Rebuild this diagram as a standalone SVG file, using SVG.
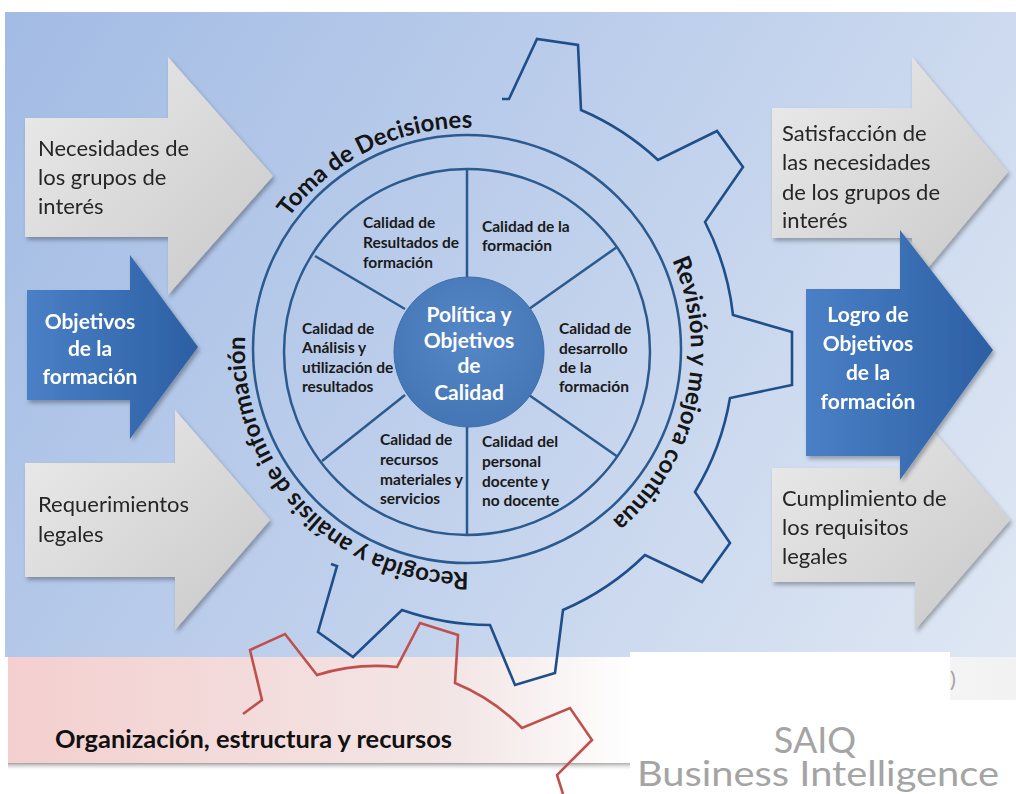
<svg xmlns="http://www.w3.org/2000/svg" width="1016" height="794" viewBox="0 0 1016 794">
<defs>
<linearGradient id="bg" gradientUnits="userSpaceOnUse" x1="0" y1="0" x2="1016" y2="650">
<stop offset="0" stop-color="#a2bbe4"/><stop offset="0.5" stop-color="#bfd0ec"/><stop offset="1" stop-color="#dfe7f3"/>
</linearGradient>
<linearGradient id="band" x1="0" y1="0" x2="1" y2="0">
<stop offset="0" stop-color="#f4cfcf"/><stop offset="0.45" stop-color="#f3e6e6"/><stop offset="0.62" stop-color="#ffffff"/><stop offset="1" stop-color="#f2f2f2"/>
</linearGradient>
<linearGradient id="shadow" x1="0" y1="0" x2="0" y2="1">
<stop offset="0" stop-color="#a0a0a0"/><stop offset="1" stop-color="#ffffff" stop-opacity="0"/>
</linearGradient>
<linearGradient id="shadowFade" x1="0" y1="0" x2="1" y2="0">
<stop offset="0" stop-color="#fff" stop-opacity="0"/><stop offset="0.55" stop-color="#fff" stop-opacity="0"/><stop offset="1" stop-color="#fff" stop-opacity="1"/>
</linearGradient>
<linearGradient id="gray" x1="0" y1="0" x2="1" y2="1">
<stop offset="0" stop-color="#ececec"/><stop offset="1" stop-color="#c8c8c8"/>
</linearGradient>
<linearGradient id="blue" x1="0" y1="0" x2="1" y2="0">
<stop offset="0" stop-color="#4a80c6"/><stop offset="1" stop-color="#2c5fa3"/>
</linearGradient>
<radialGradient id="hub" cx="0.5" cy="0.4" r="0.6">
<stop offset="0" stop-color="#5687c6"/><stop offset="1" stop-color="#4475b5"/>
</radialGradient>
<filter id="ds" x="-10%" y="-10%" width="130%" height="130%">
<feDropShadow dx="2" dy="3" stdDeviation="2" flood-color="#000" flood-opacity="0.3"/>
</filter>
<path id="pToma" d="M 247.7,315.3 A 222 222 0 0 1 574.6,155.8"/>
<path id="pRev" d="M 619.8,186.2 A 224 224 0 0 1 532.5,564.2"/>
<path id="pRec" d="M 518.8,565.9 A 222 222 0 0 1 254.1,287"/>
<style>
.side{font-family:Lato,"Liberation Sans",sans-serif;font-size:22px;fill:#262626}
.wb{font-family:Lato,"Liberation Sans",sans-serif;font-size:21px;font-weight:bold;fill:#ffffff}
.sec{font-family:Lato,"Liberation Sans",sans-serif;font-size:15.5px;font-weight:bold;fill:#1a1a1a}
.arc{font-family:Lato,"Liberation Sans",sans-serif;font-size:24px;font-weight:bold;fill:#151515}
.ring{fill:none;stroke:#2b5a8e;stroke-width:2.5}
.gear{fill:none;stroke:#1f4f8a;stroke-width:2.6;stroke-linejoin:miter}
.red{fill:none;stroke:#c0504d;stroke-width:2.6}
.logo{font-family:Lato,"Liberation Sans",sans-serif;fill:#a4a4a4}
</style>
</defs>
<rect x="0" y="0" width="1016" height="794" fill="#ffffff"/>
<rect x="5" y="12" width="1011" height="645" fill="url(#bg)"/>
<rect x="8" y="657" width="1008" height="107" fill="url(#band)"/>
<rect x="8" y="763" width="1008" height="8" fill="url(#shadow)"/>
<rect x="8" y="757" width="1008" height="16" fill="url(#shadowFade)"/>
<rect x="630" y="652" width="320" height="48" fill="#ffffff"/>
<rect x="630" y="700" width="386" height="94" fill="#ffffff"/>

<g id="connectors">
<path id="blue-gear" class="gear" d="M 502,99 L 509,99 L 537,39 L 578,45 L 581,110 A 268 268 0 0 1 658,160 L 717,131 L 743,167 L 705,222 A 268 268 0 0 1 733,315 L 792,332 L 792,385 L 730,398 A 268 268 0 0 1 695,492 L 730,543 L 702,582 L 645,555 A 268 268 0 0 1 563,610 L 555,673 L 515,685 L 490,625 A 268 268 0 0 1 402,610 L 353,657 L 318,632 L 337,566 L 331,564"/>
<path id="red-gear" class="red" d="M 243,714 L 262,700 L 250,650 L 285,634 L 317,675 A 200 200 0 0 1 397,667 L 420,623 L 458,635 L 455,683 A 200 200 0 0 1 522,728 L 570,708 L 592,740 L 557,775 L 563,794"/>
</g>

<g id="arrow-necesidades" filter="url(#ds)">
<path d="M 25,118 L 168,118 L 168,57 L 273,176 L 168,295 L 168,237 L 25,237 Z" fill="url(#gray)"/>
<text class="side" x="38" y="156">Necesidades de</text>
<text class="side" x="38" y="185">los grupos de</text>
<text class="side" x="38" y="214">interés</text>
</g>
<g id="arrow-requerimientos" filter="url(#ds)">
<path d="M 25,463 L 175,463 L 175,410 L 270,520 L 175,630 L 175,577 L 25,577 Z" fill="url(#gray)"/>
<text class="side" x="38" y="512">Requerimientos</text>
<text class="side" x="38" y="542">legales</text>
</g>
<g id="arrow-objetivos" filter="url(#ds)">
<path d="M 27,290 L 130,290 L 130,255 L 198,347 L 130,439 L 130,400 L 27,400 Z" fill="url(#blue)"/>
<text class="wb" x="90" y="329" text-anchor="middle">Objetivos</text>
<text class="wb" x="90" y="356" text-anchor="middle">de la</text>
<text class="wb" x="90" y="384" text-anchor="middle">formación</text>
</g>

<g id="arrow-satisfaccion" filter="url(#ds)">
<path d="M 772,108 L 912,108 L 912,57 L 1008,172 L 912,287 L 912,238 L 772,238 Z" fill="url(#gray)"/>
<text class="side" x="782" y="141">Satisfacción de</text>
<text class="side" x="782" y="170">las necesidades</text>
<text class="side" x="782" y="200">de los grupos de</text>
<text class="side" x="782" y="228">interés</text>
</g>
<g id="arrow-cumplimiento" filter="url(#ds)">
<path d="M 772,468 L 915,468 L 915,410 L 1010,520 L 915,630 L 915,582 L 772,582 Z" fill="url(#gray)"/>
<text class="side" x="782" y="506">Cumplimiento de</text>
<text class="side" x="782" y="535">los requisitos</text>
<text class="side" x="782" y="564">legales</text>
</g>
<g id="arrow-logro" filter="url(#ds)">
<path d="M 806,289 L 900,289 L 900,230 L 993,350 L 900,480 L 900,456 L 806,456 Z" fill="url(#blue)"/>
<text class="wb" x="868" y="322" text-anchor="middle">Logro de</text>
<text class="wb" x="868" y="351" text-anchor="middle">Objetivos</text>
<text class="wb" x="868" y="380" text-anchor="middle">de la</text>
<text class="wb" x="868" y="409" text-anchor="middle">formación</text>
</g>

<g id="ring">
<circle class="ring" cx="467" cy="349" r="214" fill="#ffffff"/>
<circle class="ring" cx="467" cy="352" r="183" fill="#ffffff"/>
<line class="ring" x1="467" y1="169" x2="467" y2="280"/>
<line class="ring" x1="467" y1="424" x2="467" y2="535"/>
<line class="ring" x1="529" y1="309" x2="617" y2="247"/>
<line class="ring" x1="529" y1="395" x2="618" y2="457"/>
<line class="ring" x1="405" y1="309" x2="315" y2="256"/>
<line class="ring" x1="405" y1="395" x2="322" y2="461"/>
</g>

<g id="sector-resultados">
<text class="sec" x="363" y="228">Calidad de</text>
<text class="sec" x="363" y="248">Resultados de</text>
<text class="sec" x="363" y="268">formación</text>
</g>
<g id="sector-formacion">
<text class="sec" x="482" y="232">Calidad de la</text>
<text class="sec" x="482" y="251">formación</text>
</g>
<g id="sector-analisis">
<text class="sec" x="302" y="334">Calidad de</text>
<text class="sec" x="302" y="353">Análisis y</text>
<text class="sec" x="302" y="373">utilización de</text>
<text class="sec" x="302" y="392">resultados</text>
</g>
<g id="sector-desarrollo">
<text class="sec" x="559" y="334">Calidad de</text>
<text class="sec" x="559" y="354">desarrollo</text>
<text class="sec" x="559" y="373">de la</text>
<text class="sec" x="559" y="392">formación</text>
</g>
<g id="sector-recursos">
<text class="sec" x="380" y="445">Calidad de</text>
<text class="sec" x="380" y="465">recursos</text>
<text class="sec" x="380" y="485">materiales y</text>
<text class="sec" x="380" y="504">servicios</text>
</g>
<g id="sector-personal">
<text class="sec" x="482" y="447">Calidad del</text>
<text class="sec" x="482" y="467">personal</text>
<text class="sec" x="482" y="487">docente y</text>
<text class="sec" x="482" y="506">no docente</text>
</g>

<g id="hub">
<circle cx="469" cy="352" r="75" fill="url(#hub)" stroke="#3f6ea9" stroke-width="1"/>
<text class="wb" x="469" y="322" text-anchor="middle" font-size="18.5">Política y</text>
<text class="wb" x="469" y="348" text-anchor="middle" font-size="18.5">Objetivos</text>
<text class="wb" x="469" y="373" text-anchor="middle" font-size="18.5">de</text>
<text class="wb" x="469" y="400" text-anchor="middle" font-size="18.5">Calidad</text>
</g>

<g id="arc-labels">
<text class="arc"><textPath href="#pToma" startOffset="50%" text-anchor="middle">Toma de Decisiones</textPath></text>
<text class="arc"><textPath href="#pRev" startOffset="50%" text-anchor="middle">Revisión y mejora continua</textPath></text>
<text class="arc" font-size="23"><textPath href="#pRec" startOffset="50%" text-anchor="middle">Recogida y análisis de información</textPath></text>
</g>

<g id="organizacion">
<text x="55" y="748" font-family="Lato,'Liberation Sans',sans-serif" font-size="24" font-weight="bold" fill="#111" textLength="397" lengthAdjust="spacingAndGlyphs">Organización, estructura y recursos</text>
</g>
<g id="logo">
<text class="logo" x="950" y="687" font-size="22" fill="#c8c8c8">)</text>
<text class="logo" x="815" y="753" text-anchor="middle" font-size="36">SAIQ</text>
<text class="logo" x="818" y="786" text-anchor="middle" font-size="35" textLength="362" lengthAdjust="spacingAndGlyphs">Business Intelligence</text>
</g>
</svg>
